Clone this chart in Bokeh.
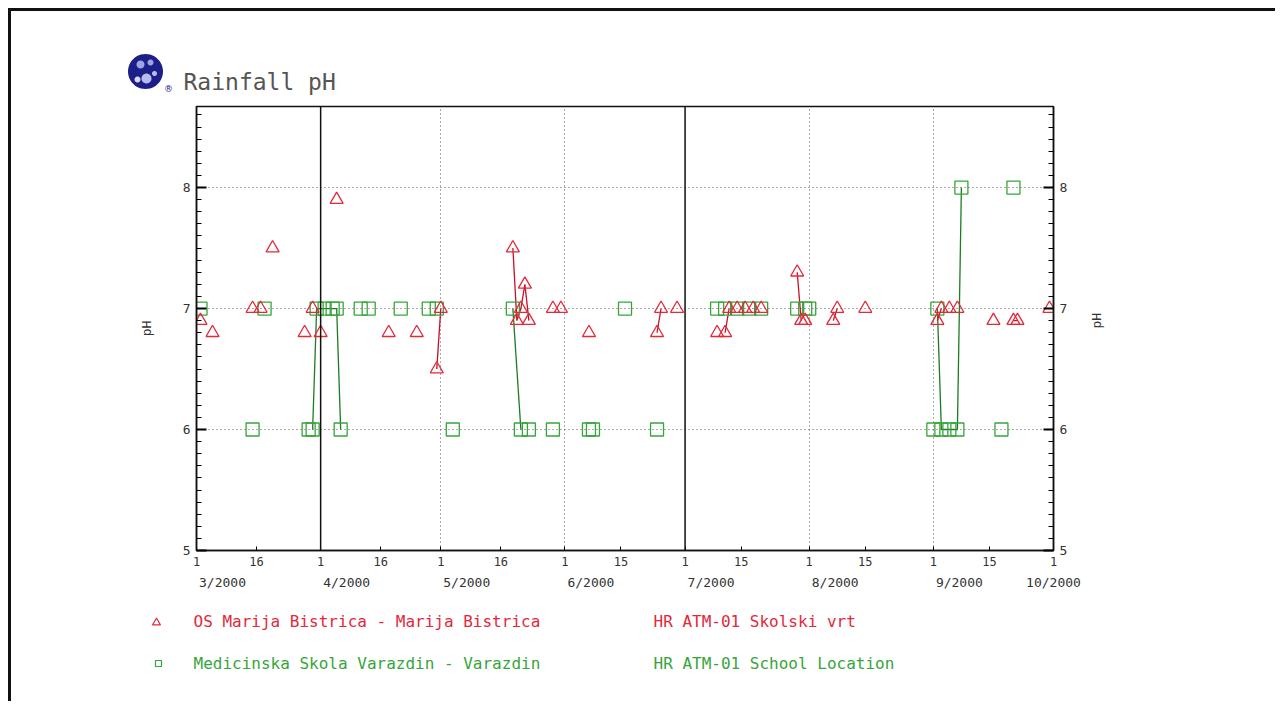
import math
import pandas as pd
from bokeh.plotting import figure
from bokeh.layouts import column
from bokeh.models import LinearAxis, FixedTicker, Span, Range1d, ColumnDataSource
from bokeh.core.properties import value
from bokeh.embed import file_html
from bokeh.resources import INLINE

START = "2000-03-01"
END = "2000-10-01"

# ---- data: OS Marija Bistrica (red triangles) ----
red_dates = ["2000-03-02", "2000-03-05", "2000-03-15", "2000-03-17", "2000-03-20", "2000-03-28",
             "2000-03-30", "2000-04-01", "2000-04-05", "2000-04-18", "2000-04-25", "2000-04-30",
             "2000-05-01", "2000-05-19", "2000-05-20", "2000-05-21", "2000-05-22", "2000-05-23",
             "2000-05-29", "2000-05-31", "2000-06-07", "2000-06-24", "2000-06-25", "2000-06-29",
             "2000-07-09", "2000-07-11", "2000-07-12", "2000-07-14", "2000-07-16", "2000-07-18",
             "2000-07-20", "2000-07-29", "2000-07-30", "2000-07-31", "2000-08-07", "2000-08-08",
             "2000-08-15", "2000-09-02", "2000-09-03", "2000-09-05", "2000-09-07", "2000-09-16",
             "2000-09-21", "2000-09-22", "2000-09-30"]
red_ph = [6.9, 6.8, 7.0, 7.0, 7.5, 6.8,
          7.0, 6.8, 7.9, 6.8, 6.8, 6.5,
          7.0, 7.5, 6.9, 7.0, 7.2, 6.9,
          7.0, 7.0, 6.8, 6.8, 7.0, 7.0,
          6.8, 6.8, 7.0, 7.0, 7.0, 7.0,
          7.0, 7.3, 6.9, 6.9, 6.9, 7.0,
          7.0, 6.9, 7.0, 7.0, 7.0, 6.9,
          6.9, 6.9, 7.0]
red_run = [0, 0, 0, 0, 0, 0,
           0, 0, 0, 0, 0, 1,
           1, 2, 2, 2, 2, 2,
           0, 0, 0, 3, 3, 0,
           0, 4, 4, 0, 0, 0,
           0, 5, 5, 0, 6, 6,
           0, 7, 7, 0, 0, 0,
           8, 8, 0]

# ---- data: Medicinska Skola Varazdin (green squares) ----
green_dates = ["2000-03-02", "2000-03-15", "2000-03-18", "2000-03-29", "2000-03-30", "2000-03-31",
               "2000-04-02", "2000-04-04", "2000-04-05", "2000-04-06", "2000-04-11", "2000-04-13",
               "2000-04-21", "2000-04-28", "2000-04-30", "2000-05-04", "2000-05-19", "2000-05-21",
               "2000-05-23", "2000-05-29", "2000-06-07", "2000-06-08", "2000-06-16", "2000-06-24",
               "2000-07-09", "2000-07-11", "2000-07-14", "2000-07-17", "2000-07-20", "2000-07-29",
               "2000-07-31", "2000-08-01", "2000-09-01", "2000-09-02", "2000-09-03", "2000-09-05",
               "2000-09-07", "2000-09-08", "2000-09-18", "2000-09-21"]
green_ph = [7.0, 6.0, 7.0, 6.0, 6.0, 7.0,
            7.0, 7.0, 7.0, 6.0, 7.0, 7.0,
            7.0, 7.0, 7.0, 6.0, 7.0, 6.0,
            6.0, 6.0, 6.0, 6.0, 7.0, 6.0,
            7.0, 7.0, 7.0, 7.0, 7.0, 7.0,
            7.0, 7.0, 6.0, 7.0, 6.0, 6.0,
            6.0, 8.0, 6.0, 8.0]
green_run = [0, 0, 0, 0, 1, 1,
             1, 1, 1, 1, 0, 0,
             0, 0, 0, 0, 2, 2,
             0, 0, 0, 0, 0, 0,
             0, 0, 0, 0, 0, 0,
             0, 0, 0, 3, 3, 3,
             3, 3, 0, 0]

# ---- axis ticks / labels ----
tick_dates = ["2000-03-01", "2000-03-16", "2000-04-01", "2000-04-16", "2000-05-01", "2000-05-16",
              "2000-06-01", "2000-06-15", "2000-07-01", "2000-07-15", "2000-08-01", "2000-08-15",
              "2000-09-01", "2000-09-15", "2000-10-01"]
tick_days_labels = ["1", "16", "1", "16", "1", "16", "1", "15", "1", "15", "1", "15", "1", "15", "1"]
month_dates = ["2000-03-01", "2000-04-01", "2000-05-01", "2000-06-01", "2000-07-01",
               "2000-08-01", "2000-09-01", "2000-10-01"]
month_labels = ["3/2000", "4/2000", "5/2000", "6/2000", "7/2000", "8/2000", "9/2000", "10/2000"]
grid_dates = ["2000-05-01", "2000-06-01", "2000-08-01", "2000-09-01"]
quarter_dates = ["2000-04-01", "2000-07-01"]
ph_ticks = [5, 6, 7, 8]
ph_grid = [6, 7, 8]
Y0, Y1 = 5.0, 8.67

series_names = ["OS Marija Bistrica - Marija Bistrica", "Medicinska Skola Varazdin - Varazdin"]
series_codes = ["HR ATM-01 Skolski vrt", "HR ATM-01 School Location"]
title_text = "Rainfall pH"

t0 = pd.Timestamp(START)
def days(ds):
    return [int((pd.Timestamp(d) - t0).days) for d in ds]

X0, X1 = 0, days([END])[0]

RED = "#e3283a"
GREEN = "#36a53a"
NAVY = "#1c1f8a"
TXT = "#333333"
FONT = "DejaVu Sans Mono"

# ---- layout in page pixels ----
ORG = 11                    # page origin of content (8px margin + 3px border)
W = 1264
HEAD_B = 100                # bottom of header strip (page y)
FL, FR, FT, FB = 196, 1053, 106, 550   # plot frame (page)
MAIN_B = 598                # bottom of main figure (page y)
LEG_B = 701                 # bottom of legend strip (page y)
BL, BR = FL - ORG, W - (FR - ORG)      # side borders shared by all strips
NAN = float("nan")

def strip(y_top, y_bot):
    f = figure(width=W, height=y_bot - y_top, output_backend="svg", toolbar_location=None,
               x_range=Range1d(FL, FR), y_range=Range1d(y_bot, y_top),
               x_axis_location=None, y_axis_location=None,
               min_border_left=BL, min_border_right=BR, min_border_top=0, min_border_bottom=0,
               background_fill_color="white", border_fill_color="white")
    f.grid.visible = False
    f.outline_line_color = None
    return f

def shape(xs, ys, anchor_y):
    # a shape drawn in the side margin; a zero-area point inside the frame keeps it from being culled
    ax = FL + 2
    return list(xs) + [NAN, ax, ax, ax], list(ys) + [NAN, anchor_y, anchor_y, anchor_y]

def circle_pts(cx, cy, r, n=48):
    return ([cx + r * math.cos(2 * math.pi * k / n) for k in range(n)],
            [cy + r * math.sin(2 * math.pi * k / n) for k in range(n)])

def tri_pts(cx, cy, s):
    return [cx - s / 2, cx, cx + s / 2], [cy + s * 0.43, cy - s * 0.43, cy + s * 0.43]

def sq_pts(cx, cy, s):
    return [cx - s / 2, cx + s / 2, cx + s / 2, cx - s / 2], [cy - s / 2, cy - s / 2, cy + s / 2, cy + s / 2]

# header: logo + title
head = strip(ORG, HEAD_B)
head_mid = (ORG + HEAD_B) / 2
logo_parts = [(145, 71, 17.5, NAVY), (140, 64, 4, "#9ea3e2"), (150, 62, 3, "#9ea3e2"),
              (146, 78, 5, "#b8bcec"), (137, 79, 3, "#d6d8f4"), (154, 73, 2.5, "#b8bcec")]
lx, ly, lc = [], [], []
for cx, cy, r, c in logo_parts:
    xs, ys = shape(*circle_pts(cx, cy, r), head_mid)
    lx.append(xs); ly.append(ys); lc.append(c)
head.patches(lx, ly, fill_color=lc, line_color=None, level="overlay")
head.text([168], [93], text=["\u00ae"], text_font=value("DejaVu Sans"), text_font_size="9px",
          text_color=NAVY, text_align="center", text_baseline="bottom", level="overlay")
head.text([183], [81], text=[title_text], text_font=value(FONT), text_font_size="23px",
          text_color="#555555", text_align="left", text_baseline="middle", level="overlay")

# main plot
p = figure(width=W, height=MAIN_B - HEAD_B, output_backend="svg", toolbar_location=None,
           x_range=Range1d(X0, X1), y_range=Range1d(Y0, Y1),
           min_border_left=BL, min_border_right=BR,
           min_border_top=FT - HEAD_B, min_border_bottom=MAIN_B - FB,
           background_fill_color="white", border_fill_color="white")
p.outline_line_color = "#111"
p.outline_line_width = 1.5

# x axes: day labels + month labels
xd = days(tick_dates)
ax = p.xaxis[0]
ax.ticker = FixedTicker(ticks=xd)
ax.major_label_overrides = {d: l for d, l in zip(xd, tick_days_labels)}
ax.major_tick_in = 4
ax.major_tick_out = 0
ax.minor_tick_line_color = None
ax.major_label_standoff = 6
ax.major_label_text_font = FONT
ax.major_label_text_font_size = "12px"
ax.major_label_text_color = TXT
ax.axis_line_color = "#111"
ax.axis_line_width = 1.5

label_shift = 26 * (X1 - X0) / (FR - FL)     # month labels start at the tick
md = [min(d + label_shift, X1) for d in days(month_dates)]
mx = LinearAxis(ticker=FixedTicker(ticks=md),
                major_label_overrides={d: l for d, l in zip(md, month_labels)})
mx.axis_line_color = None
mx.major_tick_line_color = None
mx.minor_tick_line_color = None
mx.major_label_standoff = 0
mx.major_label_text_font = FONT
mx.major_label_text_font_size = "13px"
mx.major_label_text_color = TXT
p.add_layout(mx, "below")

# y axes
minor = [5 + i * 0.1 for i in range(37)]
p.yaxis.ticker = FixedTicker(ticks=ph_ticks, minor_ticks=minor)
p.yaxis.axis_label = "pH"
yr = LinearAxis(ticker=FixedTicker(ticks=ph_ticks, minor_ticks=minor), axis_label="pH")
p.add_layout(yr, "right")
for a in [p.yaxis[0], yr]:
    a.major_tick_in = 10
    a.major_tick_out = 0
    a.minor_tick_in = 5
    a.minor_tick_out = 0
    a.major_tick_line_width = 2
    a.major_label_standoff = 6
    a.major_label_text_font = FONT
    a.major_label_text_font_size = "13px"
    a.major_label_text_color = TXT
    a.axis_label_text_font = FONT
    a.axis_label_text_font_size = "13px"
    a.axis_label_text_font_style = "normal"
    a.axis_label_text_color = TXT
    a.axis_label_standoff = 26
    a.axis_line_color = "#111"
    a.axis_line_width = 1.5
try:
    yr.axis_label_orientation = math.pi / 2
except Exception:
    pass

# grids
p.xgrid.ticker = FixedTicker(ticks=days(grid_dates))
p.ygrid.ticker = FixedTicker(ticks=ph_grid)
for g in [p.xgrid[0], p.ygrid[0]]:
    g.grid_line_color = "#555555"
    g.grid_line_dash = "1 3"
    g.grid_line_width = 1

for q in days(quarter_dates):
    p.add_layout(Span(location=q, dimension="height", line_color="#111", line_width=1.5))

# connecting lines
def runs(xs, ys, ids):
    out_x, out_y = [], []
    for rid in sorted(set(i for i in ids if i)):
        out_x.append([x for x, i in zip(xs, ids) if i == rid])
        out_y.append([y for y, i in zip(ys, ids) if i == rid])
    return out_x, out_y

rx, ry = runs(days(red_dates), red_ph, red_run)
gx, gy = runs(days(green_dates), green_ph, green_run)
p.multi_line(gx, gy, line_color="#1f7a24", line_width=1.3)
p.multi_line(rx, ry, line_color="#c8102a", line_width=1.3)

gsrc = ColumnDataSource(dict(x=days(green_dates), y=green_ph))
rsrc = ColumnDataSource(dict(x=days(red_dates), y=red_ph))
p.scatter("x", "y", source=gsrc, marker="square", size=13, fill_alpha=0,
          line_color=GREEN, line_width=1.3)
p.scatter("x", "y", source=rsrc, marker="triangle", size=13, fill_alpha=0,
          line_color=RED, line_width=1.3)

# legend strip
leg = strip(MAIN_B, LEG_B)
leg_mid = (MAIN_B + LEG_B) / 2
rows_y = [621, 663]
tx, ty = shape(*tri_pts(156, rows_y[0], 8), leg_mid)
sx, sy = shape(*sq_pts(158, rows_y[1], 6), leg_mid)
leg.patches([tx, sx], [ty, sy], fill_alpha=0, line_color=[RED, GREEN], line_width=1.2,
            level="overlay")
leg.text([193, 193], rows_y, text=series_names, text_font=value(FONT), text_font_size="16px",
         text_color=[RED, GREEN], text_align="left", text_baseline="middle", level="overlay")
leg.text([653, 653], rows_y, text=series_codes, text_font=value(FONT), text_font_size="16px",
         text_color=[RED, GREEN], text_align="left", text_baseline="middle", level="overlay")

page = column(head, p, leg, spacing=0)
page.styles = {"margin-left": "8px", "margin-top": "8px",
               "border-left": "3px solid #111", "border-top": "3px solid #111"}

open("out.html", "w").write(file_html(page, INLINE))
